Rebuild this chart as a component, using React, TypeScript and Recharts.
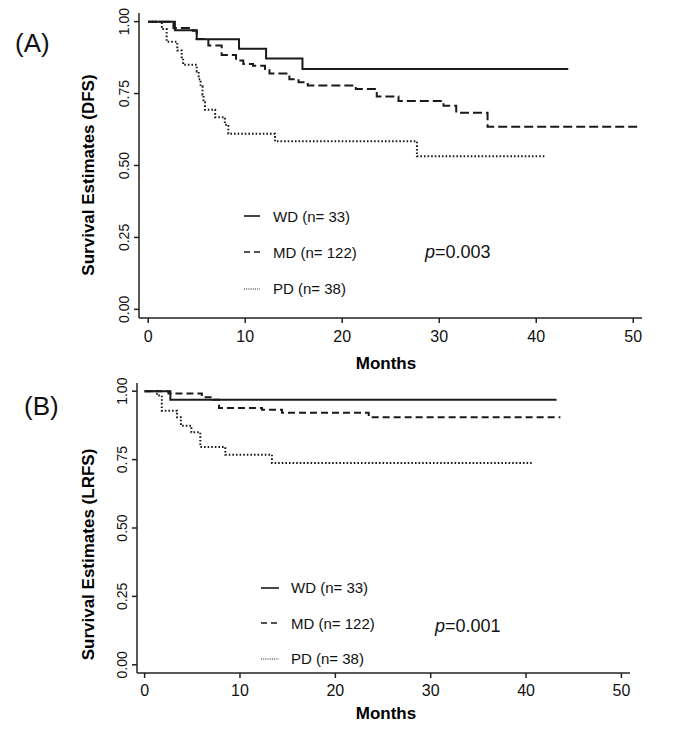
import React from 'react';
import { LineChart, Line, XAxis, YAxis, Legend, Label } from 'recharts';

const FONT = '"Liberation Sans", Arial, Helvetica, sans-serif';

const GROUPS = ['WD (n= 33)', 'MD (n= 122)', 'PD (n= 38)'];
const X_TICKS = [0, 10, 20, 30, 40, 50];
const Y_TICKS = [0, 0.25, 0.5, 0.75, 1];

// (A) disease free survival
const dfsWdMonths = [0, 2.75, 5.0, 9.36, 12.15, 15.9, 43.3];
const dfsWdSurv = [1, 0.97, 0.939, 0.906, 0.872, 0.835, 0.835];
const dfsMdMonths = [0, 2.6, 4.6, 5.0, 6.2, 7.57, 9.05, 9.8, 10.8, 12.04, 12.5, 14.55, 15.5, 16.45, 21.4, 23.56, 25.8, 30.44, 31.75, 34.98, 50.4];
const dfsMdSurv = [1, 0.978, 0.968, 0.94, 0.917, 0.884, 0.865, 0.853, 0.847, 0.835, 0.82, 0.8, 0.789, 0.778, 0.766, 0.74, 0.724, 0.708, 0.683, 0.635, 0.635];
const dfsPdMonths = [0, 1.4, 1.9, 3.0, 3.45, 3.6, 5.0, 5.2, 5.4, 5.6, 5.7, 5.85, 6.9, 7.9, 8.26, 13.07, 27.7, 41.0];
const dfsPdSurv = [1, 0.974, 0.93, 0.9, 0.873, 0.85, 0.827, 0.8, 0.775, 0.746, 0.72, 0.694, 0.668, 0.642, 0.61, 0.584, 0.532, 0.532];

// (B) local recurrence free survival
const lrfsWdMonths = [0, 2.7, 43.2];
const lrfsWdSurv = [1, 0.969, 0.969];
const lrfsMdMonths = [0, 2.5, 6.0, 7.2, 7.8, 12.3, 14.4, 23.5, 43.6];
const lrfsMdSurv = [1, 0.992, 0.978, 0.969, 0.939, 0.932, 0.921, 0.905, 0.905];
const lrfsPdMonths = [0, 1.3, 1.8, 3.4, 3.8, 4.9, 5.84, 8.46, 13.35, 40.8];
const lrfsPdSurv = [1, 0.984, 0.929, 0.905, 0.874, 0.85, 0.796, 0.768, 0.738, 0.738];

const zip = (t: number[], s: number[]) => t.map((m, i) => ({ t: m, s: s[i] }));

const INK = '#1a1a1a';

type Panel = {
  tag: string;
  yTitle: string;
  pValue: string;
  series: { t: number; s: number }[][];
  top: number;
  height: number;
  margin: { top: number; right: number; left: number; bottom: number };
  yAxisW: number;
  xAxisH: number;
  xMin: number;
  dash: string;
  tickDy: number;
  titleY: number;
  monthsY: number;
  tagPos: { x: number; y: number };
  pPos: { x: number; y: number };
  legend: { x: number; y: number; lineW: number; textGap: number; rowH: number };
};

const PANELS: Panel[] = [
  {
    tag: '(A)',
    yTitle: 'Survival Estimates (DFS)',
    pValue: '0.003',
    series: [zip(dfsWdMonths, dfsWdSurv), zip(dfsMdMonths, dfsMdSurv), zip(dfsPdMonths, dfsPdSurv)],
    top: 0,
    height: 380,
    margin: { top: 13, right: 43, left: 0, bottom: 0 },
    yAxisW: 139,
    xAxisH: 62,
    xMin: -0.95,
    dash: '9 4',
    tickDy: 17,
    titleY: 175,
    monthsY: 369,
    tagPos: { x: 15, y: 43 },
    pPos: { x: 425, y: 252 },
    legend: { x: 244, y: 198, lineW: 16, textGap: 13, rowH: 36.3 },
  },
  {
    tag: '(B)',
    yTitle: 'Survival Estimates (LRFS)',
    pValue: '0.001',
    series: [zip(lrfsWdMonths, lrfsWdSurv), zip(lrfsMdMonths, lrfsMdSurv), zip(lrfsPdMonths, lrfsPdSurv)],
    top: 350,
    height: 396,
    margin: { top: 33, right: 55, left: 0, bottom: 0 },
    yAxisW: 137,
    xAxisH: 73,
    xMin: -0.8,
    dash: '7 4',
    tickDy: 16,
    titleY: 204.5,
    monthsY: 369,
    tagPos: { x: 24, y: 56 },
    pPos: { x: 435, y: 276 },
    legend: { x: 261, y: 220, lineW: 18, textGap: 12, rowH: 35.5 },
  },
];

function KeyLine({ idx, w }: { idx: number; w: number }) {
  const d = idx === 0 ? undefined : idx === 1 ? '6 4' : '1 1.2';
  return (
    <svg width={w} height={6} style={{ display: 'block' }}>
      <line x1={0} y1={3} x2={w} y2={3} stroke={INK} strokeWidth={idx === 2 ? 1.2 : 1.6} strokeDasharray={d} />
    </svg>
  );
}

function SurvivalPanel({ p }: { p: Panel }) {
  const styles = [
    { dash: undefined, w: 2 },
    { dash: p.dash, w: 2 },
    { dash: '1.6 2', w: 2 },
  ];
  return (
    <div style={{ position: 'absolute', left: 0, top: p.top, width: 685, height: p.height }}>
      <LineChart width={685} height={p.height} margin={p.margin}>
        <XAxis
          dataKey="t"
          type="number"
          domain={[p.xMin, 50.9]}
          allowDataOverflow
          ticks={X_TICKS}
          interval={0}
          height={p.xAxisH}
          stroke="#222"
          strokeWidth={1.5}
          tickSize={5}
          tick={(props: any) => (
            <text
              x={props.x}
              y={props.y + p.tickDy}
              textAnchor="middle"
              fontSize={16}
              fontFamily={FONT}
              fill="#111"
            >
              {props.payload.value}
            </text>
          )}
        >
          <Label
            content={() => (
              <text x={386} y={p.monthsY} textAnchor="middle" fontSize={17} fontWeight="bold" fontFamily={FONT} fill="#000">
                Months
              </text>
            )}
          />
        </XAxis>
        <YAxis
          type="number"
          domain={[-0.03, 1.03]}
          allowDataOverflow
          ticks={Y_TICKS}
          interval={0}
          width={p.yAxisW}
          stroke="#222"
          strokeWidth={1.5}
          tickSize={5}
          tick={(props: any) => {
            const cx = props.x - 2.7;
            return (
              <text
                x={cx}
                y={props.y}
                transform={`rotate(-90, ${cx}, ${props.y})`}
                textAnchor="middle"
                fontSize={14}
                fontFamily={FONT}
                fill="#111"
              >
                {props.payload.value.toFixed(2)}
              </text>
            );
          }}
        >
          <Label
            content={() => (
              <text
                x={94}
                y={p.titleY}
                transform={`rotate(-90, 94, ${p.titleY})`}
                textAnchor="middle"
                fontSize={17}
                fontWeight="bold"
                fontFamily={FONT}
                fill="#000"
              >
                {p.yTitle}
              </text>
            )}
          />
        </YAxis>
        {p.series.map((data, i) => (
          <Line
            key={GROUPS[i]}
            name={GROUPS[i]}
            data={data}
            dataKey="s"
            type="stepAfter"
            stroke={INK}
            strokeWidth={styles[i].w}
            strokeDasharray={styles[i].dash}
            dot={false}
            activeDot={false}
            isAnimationActive={false}
          />
        ))}
        <Legend
          layout="vertical"
          align="center"
          verticalAlign="middle"
          wrapperStyle={{ left: p.legend.x, top: p.legend.y, width: 200 }}
          content={() => (
            <div style={{ fontFamily: FONT, fontSize: 15, color: '#111' }}>
              {GROUPS.map((g, i) => (
                <div key={g} style={{ display: 'flex', alignItems: 'center', height: p.legend.rowH }}>
                  <KeyLine idx={i} w={p.legend.lineW} />
                  <span style={{ marginLeft: p.legend.textGap, whiteSpace: 'nowrap' }}>{g}</span>
                </div>
              ))}
            </div>
          )}
        />
      </LineChart>
      <div
        style={{
          position: 'absolute',
          left: p.tagPos.x,
          top: p.tagPos.y - 15,
          lineHeight: '30px',
          fontFamily: FONT,
          fontSize: 26,
          color: '#111',
        }}
      >
        {p.tag}
      </div>
      <div
        style={{
          position: 'absolute',
          left: p.pPos.x,
          top: p.pPos.y - 11,
          lineHeight: '22px',
          fontFamily: FONT,
          fontSize: 18,
          color: '#111',
          whiteSpace: 'nowrap',
        }}
      >
        <i>p</i>={p.pValue}
      </div>
    </div>
  );
}

export default function App() {
  return (
    <div style={{ position: 'absolute', left: 0, top: 0, width: 685, height: 746, background: '#fff' }}>
      {PANELS.map((p) => (
        <SurvivalPanel key={p.tag} p={p} />
      ))}
    </div>
  );
}
